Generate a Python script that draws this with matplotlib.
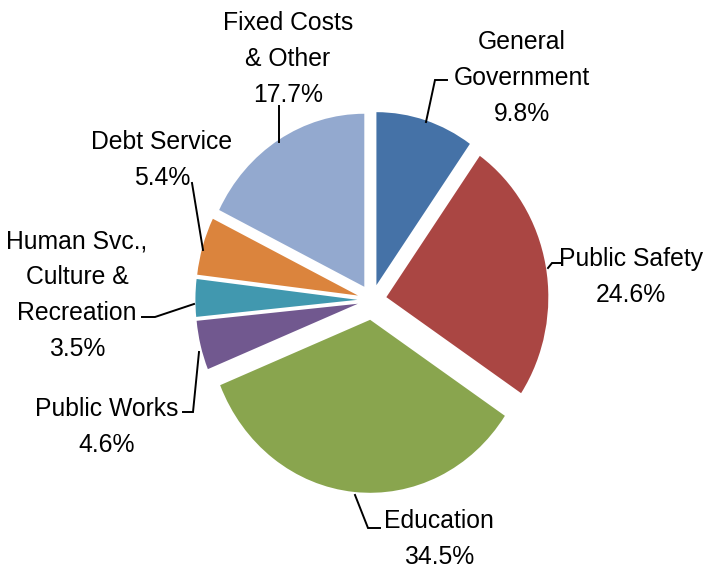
import matplotlib.pyplot as plt

names = ['General\nGovernment', 'Public Safety', 'Education', 'Public Works',
         'Human Svc.,\nCulture &\nRecreation', 'Debt Service', 'Fixed Costs\n& Other']
shares = [9.8, 24.6, 34.5, 4.6, 3.5, 5.4, 17.7]
colors = ['#4572A7', '#AA4643', '#89A54E', '#71588F', '#4198AF', '#DB843D', '#93A9CF']
explode = [0.09, 0.09, 0.115, 0.09, 0.09, 0.09, 0.09]

# pixel layout of the reference: pie centre and radii (x, y)
CX, CY, RX, RY = 372, 300, 162, 173
W, H = 703, 569


def px(x, y):
    return (x - CX) / RX, (CY - y) / RY


label_pos = [(522, 78), (631, 277), (439, 539), (107, 427), (77, 295), (162, 160), (288, 59)]
leaders = [
    [(426, 122), (435, 80), (447, 80)],
    [(548, 268), (552, 263), (561, 263)],
    [(355, 495), (368, 528), (380, 528)],
    [(199, 352), (193, 412), (183, 412)],
    [(194, 304), (155, 317), (142, 317)],
    [(203, 250), (192, 183)],
    [(279, 142), (279, 106)],
]

fig = plt.figure(figsize=(W / 100, H / 100), dpi=100)
ax = fig.add_axes([0, 0, 1, 1])
ax.pie(shares, colors=colors, explode=explode, startangle=90, counterclock=False,
       wedgeprops={'linewidth': 0})
ax.set_aspect('auto')
x0, y1 = px(0, 0)
x1, y0 = px(W, H)
ax.set_xlim(x0, x1)
ax.set_ylim(y0, y1)
ax.axis('off')

for name, v, (lx, ly), pts in zip(names, shares, label_pos, leaders):
    tx, ty = px(lx, ly)
    ax.text(tx, ty, f'{name}\n{v}%', ha='center', va='center', fontsize=17.8,
            family=['Liberation Sans', 'DejaVu Sans'], linespacing=1.62, color='#000000')
    xs, ys = zip(*[px(a, b) for a, b in pts])
    ax.plot(xs, ys, color='black', lw=1.4, solid_joinstyle='miter')

fig.savefig('out.png', dpi=100)
